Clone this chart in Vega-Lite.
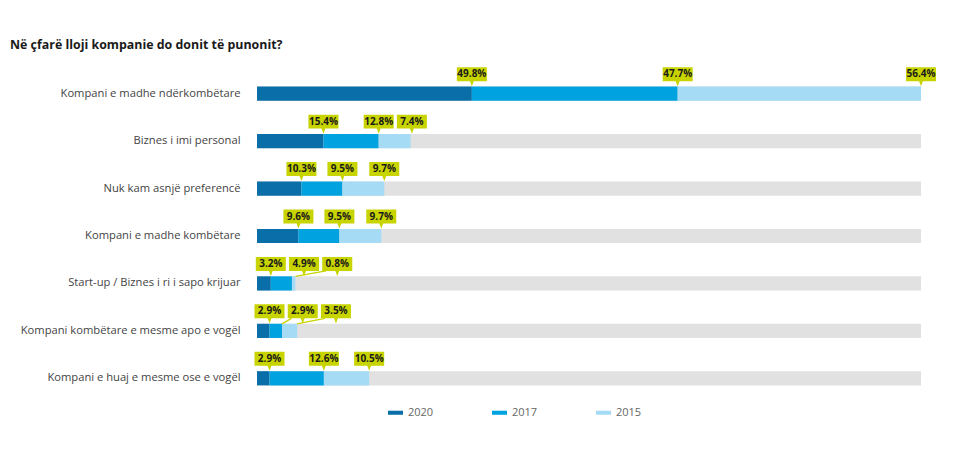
{
  "$schema": "https://vega.github.io/schema/vega-lite/v6.json",
  "width": 664,
  "height": 332,
  "autosize": "none",
  "padding": {"left": 257, "top": 70, "right": 54, "bottom": 61},
  "background": "white",
  "config": {"view": {"stroke": null}, "font": "Open Sans"},
  "title": {
    "text": "Në çfarë lloji kompanie do donit të punonit?",
    "anchor": "start",
    "frame": "group",
    "dx": -247,
    "offset": 16,
    "fontSize": 12.4,
    "fontWeight": "bold",
    "color": "#1a1a1a",
    "font": "Open Sans"
  },
  "data": {
    "values": [
      {"category": "Kompani e madhe ndërkombëtare", "year": "2020", "value": 49.8},
      {"category": "Kompani e madhe ndërkombëtare", "year": "2017", "value": 47.7},
      {"category": "Kompani e madhe ndërkombëtare", "year": "2015", "value": 56.4},
      {"category": "Biznes i imi personal", "year": "2020", "value": 15.4},
      {"category": "Biznes i imi personal", "year": "2017", "value": 12.8},
      {"category": "Biznes i imi personal", "year": "2015", "value": 7.4},
      {"category": "Nuk kam asnjë preferencë", "year": "2020", "value": 10.3},
      {"category": "Nuk kam asnjë preferencë", "year": "2017", "value": 9.5},
      {"category": "Nuk kam asnjë preferencë", "year": "2015", "value": 9.7},
      {"category": "Kompani e madhe kombëtare", "year": "2020", "value": 9.6},
      {"category": "Kompani e madhe kombëtare", "year": "2017", "value": 9.5},
      {"category": "Kompani e madhe kombëtare", "year": "2015", "value": 9.7},
      {"category": "Start-up / Biznes i ri i sapo krijuar", "year": "2020", "value": 3.2},
      {"category": "Start-up / Biznes i ri i sapo krijuar", "year": "2017", "value": 4.9},
      {"category": "Start-up / Biznes i ri i sapo krijuar", "year": "2015", "value": 0.8},
      {"category": "Kompani kombëtare e mesme apo e vogël", "year": "2020", "value": 2.9},
      {"category": "Kompani kombëtare e mesme apo e vogël", "year": "2017", "value": 2.9},
      {"category": "Kompani kombëtare e mesme apo e vogël", "year": "2015", "value": 3.5},
      {"category": "Kompani e huaj e mesme ose e vogël", "year": "2020", "value": 2.9},
      {"category": "Kompani e huaj e mesme ose e vogël", "year": "2017", "value": 12.6},
      {"category": "Kompani e huaj e mesme ose e vogël", "year": "2015", "value": 10.5}
    ]
  },
  "encoding": {
    "y": {
      "field": "category",
      "type": "nominal",
      "sort": [
        "Kompani e madhe ndërkombëtare",
        "Biznes i imi personal",
        "Nuk kam asnjë preferencë",
        "Kompani e madhe kombëtare",
        "Start-up / Biznes i ri i sapo krijuar",
        "Kompani kombëtare e mesme apo e vogël",
        "Kompani e huaj e mesme ose e vogël"
      ],
      "scale": {"paddingInner": 0.7, "paddingOuter": 0.35},
      "axis": {
        "title": null,
        "domain": false,
        "ticks": false,
        "labelPadding": 17,
        "labelFontSize": 11.2,
        "labelColor": "#444444",
        "labelFont": "Open Sans",
        "labelLimit": 400
      }
    }
  },
  "layer": [
    {
      "transform": [
        {"joinaggregate": [{"op": "sum", "field": "value", "as": "total"}], "groupby": ["category"]},
        {"joinaggregate": [{"op": "max", "field": "total", "as": "maxTotal"}]},
        {"filter": "datum.year === '2020'"}
      ],
      "mark": {"type": "bar", "color": "#e1e1e1"},
      "encoding": {
        "x": {"field": "maxTotal", "type": "quantitative", "scale": {"nice": false, "zero": true}, "axis": null}
      }
    },
    {
      "mark": {"type": "bar"},
      "encoding": {
        "x": {"field": "value", "type": "quantitative", "stack": "zero"},
        "color": {
          "field": "year",
          "type": "nominal",
          "scale": {"domain": ["2020", "2017", "2015"], "range": ["#0a6fa8", "#00a3e0", "#a6dbf5"]},
          "legend": {
            "title": null,
            "orient": "none",
            "legendX": 131,
            "legendY": 335,
            "direction": "horizontal",
            "columnPadding": 58,
            "symbolType": "M-1,-0.27L1,-0.27L1,0.27L-1,0.27Z",
            "symbolSize": 225,
            "symbolStrokeWidth": 0,
            "labelOffset": 5,
            "labelFontSize": 11,
            "labelColor": "#666666",
            "labelFont": "Open Sans"
          }
        },
        "order": {"field": "year", "sort": "descending"}
      }
    },
    {
      "transform": [
        {"stack": "value", "groupby": ["category"], "sort": [{"field": "year", "order": "descending"}], "as": ["v0", "v1"]},
        {"window": [{"op": "lag", "field": "v1", "param": 1, "as": "p1"}, {"op": "lag", "field": "v1", "param": 2, "as": "p2"}], "groupby": ["category"], "sort": [{"field": "year", "order": "descending"}]},
        {"calculate": "max(datum.v1, isValid(datum.p1) ? datum.p1 + 7.7 : 0, isValid(datum.p2) ? datum.p2 + 15.4 : 0)", "as": "lx"},
        {"calculate": "datum.lx - 2.6", "as": "lxLeft"},
        {"calculate": "format(datum.value, '.1f') + '%'", "as": "label"}
      ],
      "layer": [
        {
          "transform": [{"filter": "datum.lx - datum.v1 > 3.5"}],
          "mark": {
            "type": "rule",
            "color": "#c8d400",
            "strokeWidth": 1.3,
            "yOffset": -7,
            "y2Offset": -12.5
          },
          "encoding": {
            "x": {"field": "v1", "type": "quantitative"},
            "x2": {"field": "lxLeft"},
            "y2": {"field": "category"}
          }
        },
        {
          "mark": {
            "type": "point",
            "shape": "M-1,-1L1,-1L1,-0.07L0.13,-0.07L0,0.27L-0.13,-0.07L-1,-0.07Z",
            "size": 900,
            "filled": true,
            "color": "#c8d400",
            "opacity": 1,
            "strokeWidth": 0,
            "yOffset": -11.5
          },
          "encoding": {
            "x": {"field": "lx", "type": "quantitative"}
          }
        },
        {
          "mark": {
            "type": "text",
            "font": "Open Sans",
            "fontSize": 10,
            "fontWeight": "bold",
            "color": "#1a1a1a",
            "baseline": "middle",
            "align": "center",
            "yOffset": -19.5
          },
          "encoding": {
            "x": {"field": "lx", "type": "quantitative"},
            "text": {"field": "label", "type": "nominal"}
          }
        }
      ]
    }
  ]
}
